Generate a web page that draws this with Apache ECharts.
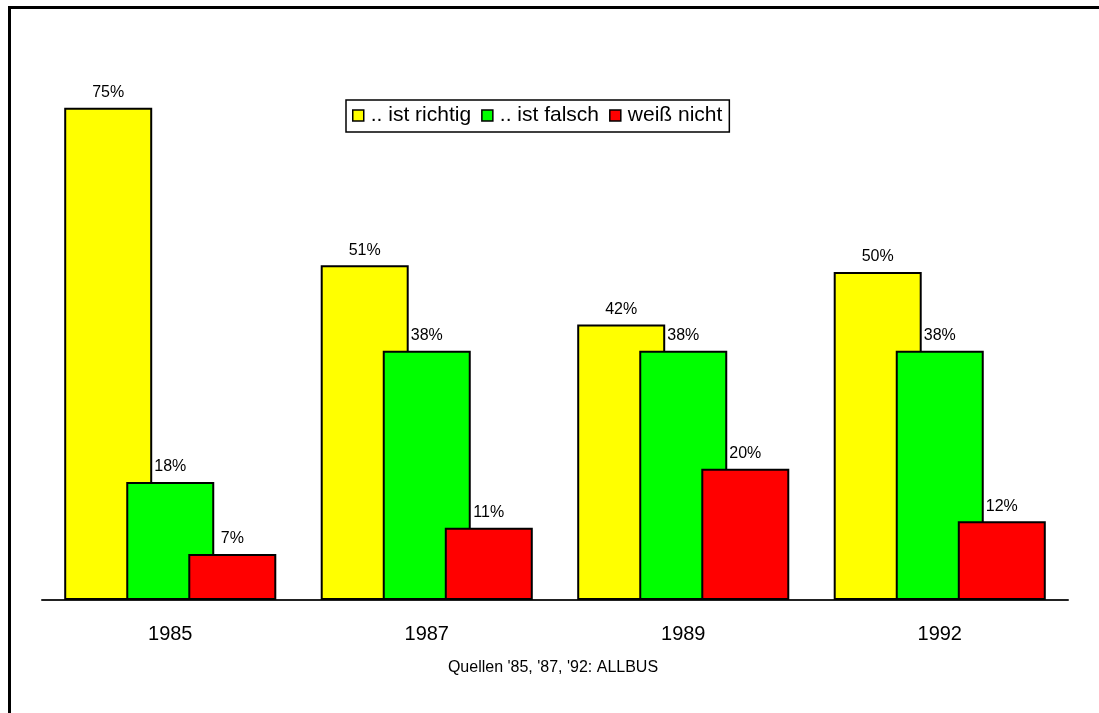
<!DOCTYPE html>
<html>
<head>
<meta charset="utf-8">
<script src="https://cdn.jsdelivr.net/npm/echarts@6/dist/echarts.min.js"></script>
<style>
  html, body { margin: 0; padding: 0; background: #fff; }
  #chart { width: 1099px; height: 713px; }
</style>
</head>
<body>
<div id="chart"></div>
<script>
// Survey years
const years = ['1985', '1987', '1989', '1992'];
// Share of answers per year, in percent
const richtig = [75, 51, 42, 50];
const falsch = [18, 38, 38, 38];
const weissNicht = [7, 11, 20, 12];
const seriesNames = ['.. ist richtig', '.. ist falsch', 'weiß nicht'];
const seriesColors = ['#ffff00', '#00ff00', '#ff0000'];
const sourceNote = "Quellen '85, '87, '92: ALLBUS";

const FONT = '"Liberation Sans", Arial, sans-serif';
const chart = echarts.init(document.getElementById('chart'), null, { renderer: 'canvas' });

function barSeries(name, data, color) {
  return {
    name: name,
    type: 'bar',
    data: data,
    barWidth: 88,
    barGap: '-29.5%',
    itemStyle: { color: color, borderColor: '#000', borderWidth: 2 },
    label: {
      show: true,
      position: 'top',
      distance: 7,
      formatter: '{c}%',
      color: '#000',
      fontFamily: FONT,
      fontSize: 16
    },
    emphasis: { disabled: true }
  };
}

chart.setOption({
  animation: false,
  backgroundColor: '#fff',
  grid: { left: 42, right: 31, top: 75, bottom: 113 },
  legend: {
    left: 346,
    top: 100,
    orient: 'horizontal',
    backgroundColor: '#fff',
    borderColor: '#000',
    borderWidth: 1.5,
    borderRadius: 0,
    padding: [5, 7, 6, 6],
    itemWidth: 11,
    itemHeight: 11,
    itemGap: 10,
    icon: 'rect',
    itemStyle: { borderColor: '#000', borderWidth: 1.5 },
    textStyle: { color: '#000', fontFamily: FONT, fontSize: 21, padding: [0, 0, 0, 2] },
    data: seriesNames
  },
  xAxis: {
    type: 'category',
    data: years,
    axisLine: { show: true, lineStyle: { color: '#222', width: 2 } },
    axisTick: { show: false },
    axisLabel: { color: '#000', fontFamily: FONT, fontSize: 20, margin: 24 }
  },
  yAxis: {
    type: 'value',
    min: 0,
    max: 80,
    show: false,
    splitLine: { show: false }
  },
  series: [
    barSeries(seriesNames[0], richtig, seriesColors[0]),
    barSeries(seriesNames[1], falsch, seriesColors[1]),
    barSeries(seriesNames[2], weissNicht, seriesColors[2])
  ],
  graphic: [
    {
      type: 'rect',
      shape: { x: 9.5, y: 7.5, width: 2000, height: 2000 },
      style: { fill: 'none', stroke: '#000', lineWidth: 3 },
      silent: true
    },
    {
      type: 'text',
      x: 553,
      y: 660,
      style: {
        text: sourceNote,
        fill: '#000',
        font: '16px ' + FONT,
        textAlign: 'center',
        textVerticalAlign: 'top'
      },
      silent: true
    }
  ]
});
</script>
</body>
</html>
